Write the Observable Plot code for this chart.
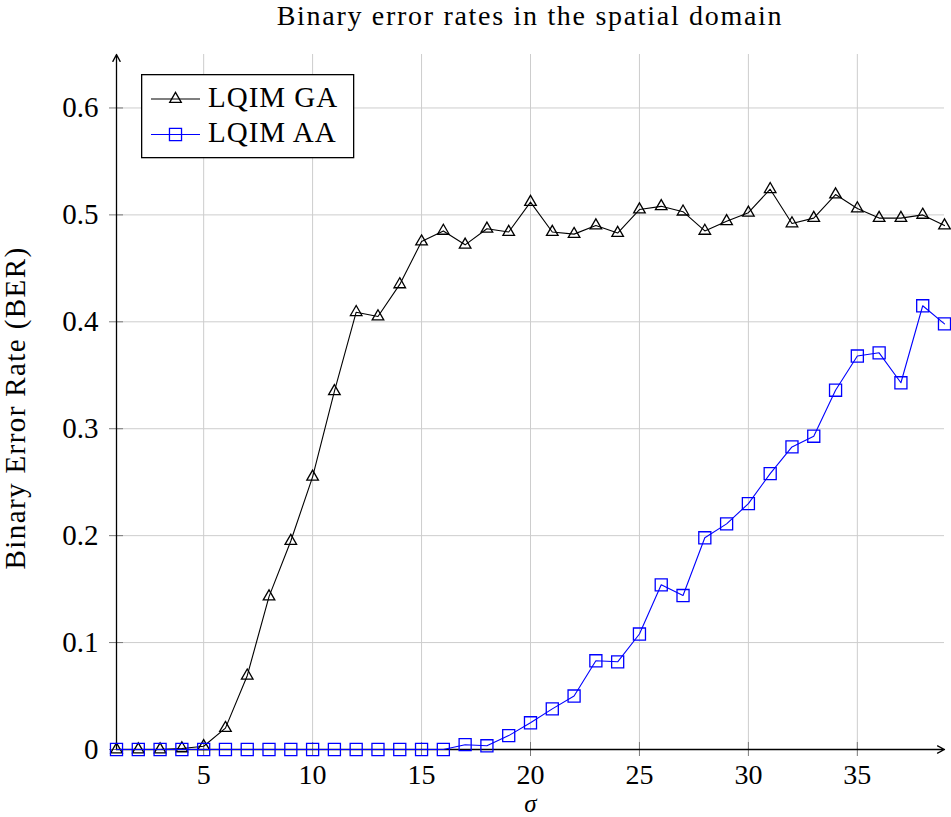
<!DOCTYPE html>
<html><head><meta charset="utf-8">
<script src="https://cdn.jsdelivr.net/npm/d3@7"></script>
<script src="https://cdn.jsdelivr.net/npm/@observablehq/plot@0.6"></script>
<style>
body{margin:0;background:#fff;}
#wrap{position:relative;width:951px;height:817px;font-family:"Liberation Serif",serif;overflow:hidden;}
#title{height:30px;line-height:31px;font-size:28px;text-align:center;padding-left:109px;box-sizing:border-box;width:951px;white-space:nowrap;letter-spacing:1.7px;}
#legend{position:absolute;left:141px;top:74px;}
</style>
</head><body>
<div id="wrap">
<div id="title">Binary error rates in the spatial domain</div>
<div id="chart"></div>
<svg id="legend" width="215" height="86"></svg>
</div>
<script>
const titleText = "Binary error rates in the spatial domain";
const xLabel = "σ";
const yLabel = "Binary Error Rate (BER)";
const seriesNames = ["LQIM GA", "LQIM AA"];
const sigma = [1,2,3,4,5,6,7,8,9,10,11,12,13,14,15,16,17,18,19,20,21,22,23,24,25,26,27,28,29,30,31,32,33,34,35,36,37,38,39];
const berGA = [0,0,0,0.001,0.003,0.020,0.069,0.143,0.195,0.255,0.335,0.409,0.405,0.435,0.475,0.485,0.472,0.487,0.484,0.512,0.484,0.482,0.490,0.483,0.505,0.508,0.503,0.485,0.494,0.502,0.524,0.492,0.497,0.519,0.506,0.497,0.497,0.500,0.490];
const berAA = [0,0,0,0,0,0,0,0,0,0,0,0,0,0,0,0,0.0045,0.0035,0.013,0.025,0.038,0.050,0.083,0.082,0.108,0.154,0.144,0.198,0.211,0.230,0.258,0.283,0.293,0.336,0.368,0.371,0.343,0.415,0.398];
const xTicks = [5,10,15,20,25,30,35];
const yTicks = [0,0.1,0.2,0.3,0.4,0.5,0.6];
const yTickLabels = ["0","0.1","0.2","0.3","0.4","0.5","0.6"];
const xDomain = [1, 39];
const yDomain = [0, 0.65];

const ga = sigma.map((s, i) => ({s, v: berGA[i]}));
const aa = sigma.map((s, i) => ({s, v: berAA[i]}));
const axisArrows = [
  {x1: xDomain[0], y1: yDomain[0], x2: xDomain[1], y2: yDomain[0]},
  {x1: xDomain[0], y1: yDomain[0], x2: xDomain[0], y2: yDomain[1]}
];
const gridColor = "#cdcdcd";
const tickColor = "#7a7a7a";

const chart = Plot.plot({
  width: 951, height: 787,
  marginTop: 24, marginBottom: 68, marginLeft: 116, marginRight: 7,
  style: {fontFamily: "Liberation Serif", fontSize: "28px", background: "white", overflow: "visible"},
  x: {domain: xDomain},
  y: {domain: yDomain},
  marks: [
    Plot.ruleX(xTicks, {stroke: gridColor, strokeWidth: 1}),
    Plot.ruleY(yTicks.filter(d => d > 0), {stroke: gridColor, strokeWidth: 1}),
    Plot.axisX(xTicks, {tickSize: 7, tickPadding: 8, stroke: tickColor, fill: "black", fontSize: 28, label: null}),
    Plot.axisX(xTicks, {tickSize: -7, stroke: tickColor, fill: "none", label: null}),
    Plot.axisY(yTicks, {tickSize: 7, tickPadding: 11, stroke: tickColor, fill: "black", fontSize: 29, label: null,
      tickFormat: d => yTickLabels[yTicks.indexOf(d)]}),
    Plot.axisY(yTicks, {tickSize: -7, stroke: tickColor, fill: "none", label: null}),
    Plot.arrow(axisArrows, {x1: "x1", y1: "y1", x2: "x2", y2: "y2", stroke: "black", strokeWidth: 1.3, headLength: 9, headAngle: 55}),
    Plot.text([xLabel], {text: d => d, frameAnchor: "bottom", dy: 62, lineAnchor: "bottom", fontStyle: "italic", fontSize: 25}),
    Plot.text([yLabel], {text: d => d, frameAnchor: "left", textAnchor: "middle", lineAnchor: "middle", dx: -101, dy: 6, rotate: -90, fontSize: 29}),
    Plot.line(ga, {x: "s", y: "v", stroke: "black", strokeWidth: 1.1}),
    Plot.dot(ga, {x: "s", y: "v", symbol: "triangle", r: 4.3, stroke: "black", fill: "none", strokeWidth: 1.3}),
    Plot.line(aa, {x: "s", y: "v", stroke: "#0000ff", strokeWidth: 1.1}),
    Plot.dot(aa, {x: "s", y: "v", symbol: "square", r: 6.8, stroke: "#0000ff", fill: "none", strokeWidth: 1.3})
  ]
});
d3.select(chart).selectAll("text").filter(function() { return this.textContent === yLabel; })
  .attr("letter-spacing", 1.4);
document.getElementById("chart").appendChild(chart);

// legend
const lg = d3.select("#legend");
lg.append("rect").attr("x", 0.65).attr("y", 0.65).attr("width", 212).attr("height", 83)
  .attr("fill", "white").attr("stroke", "black").attr("stroke-width", 1.3);
const rows = [
  {name: seriesNames[0], color: "black", sym: d3.symbolTriangle, size: Math.PI * 4.3 * 4.3, ly: 25, ty: 33},
  {name: seriesNames[1], color: "#0000ff", sym: d3.symbolSquare, size: Math.PI * 6.8 * 6.8, ly: 60.5, ty: 68}
];
rows.forEach(r => {
  lg.append("line").attr("x1", 10).attr("x2", 59).attr("y1", r.ly).attr("y2", r.ly)
    .attr("stroke", r.color).attr("stroke-width", 1.1);
  lg.append("path").attr("d", d3.symbol(r.sym, r.size)()).attr("transform", `translate(34.5,${r.ly})`)
    .attr("fill", "none").attr("stroke", r.color).attr("stroke-width", 1.3);
  lg.append("text").attr("x", 67).attr("y", r.ty).text(r.name)
    .attr("font-family", "Liberation Serif").attr("font-size", 29).attr("letter-spacing", 1);
});
</script>
</body></html>
